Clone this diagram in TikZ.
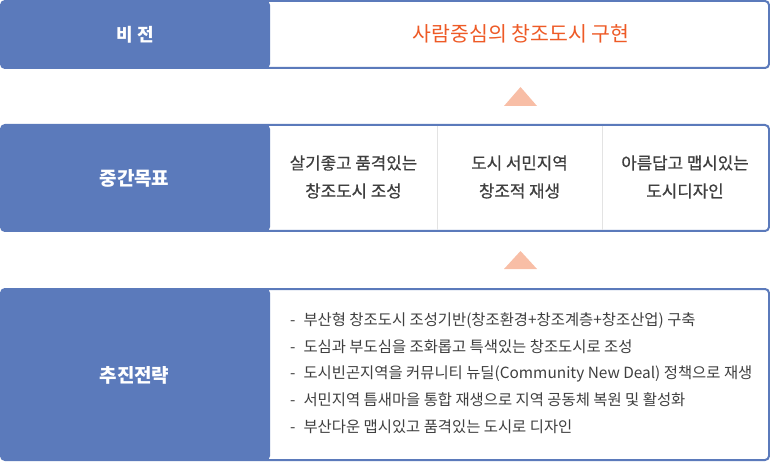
\documentclass[tikz,border=0pt]{standalone}
\usepackage{fontspec}
\setmainfont{Noto Sans CJK KR}
\newfontfamily\goalfont[FakeBold=0.6]{Noto Sans CJK KR}
\definecolor{mainblue}{HTML}{5B7ABB}
\definecolor{visionorange}{HTML}{EE5A26}
\definecolor{tricolor}{HTML}{F8BEA6}
\definecolor{bodygray}{HTML}{3F3F3F}
\definecolor{divgray}{HTML}{E3E3E3}
\tikzset{
  rowbox/.style={draw=mainblue, line width=2pt, rounded corners=4pt, fill=white,
    minimum width=768pt, inner sep=0pt,
    path picture={\fill[mainblue] (path picture bounding box.north west) rectangle ([xshift=269pt]path picture bounding box.south west);}},
  leftlabel/.style={text=white, font=\bfseries\fontsize{19pt}{22pt}\selectfont, inner sep=0pt},
  goaltext/.style={text=bodygray, font=\goalfont\fontsize{16.8pt}{28pt}\selectfont, align=center, inner sep=0pt},
  strattext/.style={text=bodygray, font=\fontsize{15.4pt}{26.7pt}\selectfont, align=left, inner sep=0pt, anchor=west},
  uptri/.style={fill=tricolor, draw=none},
  divline/.style={draw=divgray, line width=1pt}
}
\begin{document}
\begin{tikzpicture}[x=1pt,y=-1pt]
\useasboundingbox (0,0) rectangle (770,462);
% rows
\node[rowbox, minimum height=67pt] (row1) at (385,34.5) {};
\node[rowbox, minimum height=106pt] (row2) at (385,178) {};
\node[rowbox, minimum height=171pt] (row3) at (385,374.5) {};
% left labels
\node[leftlabel, font=\bfseries\fontsize{18pt}{22pt}\selectfont] (lab1) at (135.5,34.5) {비\hspace{4.5pt}전};
\node[leftlabel] (lab2) at (134.5,178.5) {중간목표};
\node[leftlabel] (lab3) at (134.5,375) {추진전략};
% vision
\node[text=visionorange, font=\fontsize{20.5pt}{24pt}\selectfont, inner sep=0pt] (vision) at (521,34) {사람중심의 창조도시 구현};
% dividers
\coordinate (d1t) at (437,126);
\coordinate (d1b) at (437,230);
\coordinate (d2t) at (602,126);
\coordinate (d2b) at (602,230);
\draw[divline] (d1t) -- (d1b);
\draw[divline] (d2t) -- (d2b);
% goals
\node[goaltext] (g1) at (353.5,177) {살기좋고 품격있는\\창조도시 조성};
\node[goaltext] (g2) at (519.5,177) {도시 서민지역\\창조적 재생};
\node[goaltext] (g3) at (685,177) {아름답고 맵시있는\\도시디자인};
% strategies
\node[strattext] (s1) at (290,320.5) {-\hspace{8pt}부산형 창조도시 조성기반(창조환경+창조계층+창조산업) 구축};
\node[strattext] (s2) at (290,347) {-\hspace{8pt}도심과 부도심을 조화롭고 특색있는 창조도시로 조성};
\node[strattext] (s3) at (290,373.5) {-\hspace{8pt}도시빈곤지역을 커뮤니티 뉴딜(Community New Deal) 정책으로 재생};
\node[strattext] (s4) at (290,400) {-\hspace{8pt}서민지역 틈새마을 통합 재생으로 지역 공동체 복원 및 활성화};
\node[strattext] (s5) at (290,427) {-\hspace{8pt}부산다운 맵시있고 품격있는 도시로 디자인};
% triangles
\fill[uptri] (504,106) -- (520.5,87) -- (537,106) -- cycle;
\fill[uptri] (504,269) -- (520.5,251) -- (537,269) -- cycle;
\end{tikzpicture}
\end{document}
